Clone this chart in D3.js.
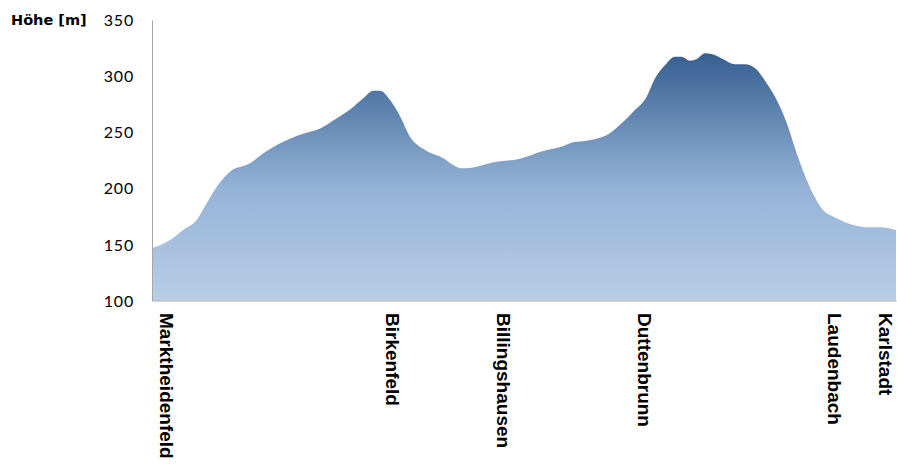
<!DOCTYPE html>
<html>
<head>
<meta charset="utf-8">
<script src="https://cdn.jsdelivr.net/npm/d3@7"></script>
<style>
  body { margin: 0; background: #fff; }
  .tick text { font-family: Lato, "Open Sans", sans-serif; font-size: 16px; letter-spacing: 0.8px; fill: #000; }
  .axis path { stroke: #a6a6a6; }
</style>
</head>
<body>
<div class="chart-container"></div>
<script>
// Data ------------------------------------------------------------------------------------------------------
// distance along the route [km] and elevation [m]
const distance = [0, 0.75, 1.30, 1.86, 2.28, 2.70, 3.25, 4.08, 4.64, 5.47, 6.58, 6.86, 7.70, 8.32, 8.80,
  9.22, 9.50, 9.92, 10.33, 10.75, 11.38, 12.14, 12.55, 12.90, 13.53, 14.15, 15.33, 16.30, 17.14, 17.55,
  18.11, 19.01, 19.57, 20.05, 20.61, 20.96, 21.38, 21.79, 22.07, 22.42, 22.70, 23.04, 23.32, 23.80,
  24.29, 24.71, 25.13, 25.61, 26.03, 26.45, 26.86, 27.28, 27.90, 28.53, 29.22, 29.92, 30.33, 31.0];
const elevation = [146.5, 153.9, 162.8, 171.7, 186.6, 201.4, 214.8, 222.3, 231.2, 241.5, 250.4, 252.0,
  262.4, 271.3, 280.2, 287.0, 287.0, 278.7, 264.4, 246.0, 234.1, 226.7, 220.8, 217.8, 219.3, 222.8,
  226.4, 233.2, 237.7, 241.0, 242.4, 248.1, 257.9, 268.3, 281.6, 298.0, 309.9, 317.3, 317.3, 313.7,
  315.2, 320.3, 319.7, 315.0, 310.5, 310.5, 307.0, 293.6, 278.7, 257.9, 231.2, 207.4, 182.2, 173.3,
  167.3, 165.2, 165.2, 162.8];

// places along the route
const places = ["Marktheidenfeld", "Birkenfeld", "Billingshausen", "Duttenbrunn", "Laudenbach", "Karlstadt"];
const placeKm = [0.61, 10.04, 14.66, 20.51, 28.46, 30.56];

const yTicks = [100, 150, 200, 250, 300, 350];

const profile = distance.map((d, i) => ({km: d, m: elevation[i]}));

// Dimensions ------------------------------------------------------------------------------------------------
const width = 897,
      height = 465;

const svg = d3.select(".chart-container").append("svg")
.attr("width", width)
.attr("height", height);

// Scales ----------------------------------------------------------------------------------------------------
const x = d3.scaleLinear()
.domain([0, 31])
.range([152, 896]);

const y = d3.scaleLinear()
.domain([100, 350])
.range([300.5, 20]);

// Gradient --------------------------------------------------------------------------------------------------
const grad = svg.append("defs").append("linearGradient")
.attr("id", "fillGrad")
.attr("x1", 0).attr("y1", 0)
.attr("x2", 0).attr("y2", 1);

grad.append("stop").attr("offset", "0%").attr("stop-color", "#365f91");
grad.append("stop").attr("offset", "55%").attr("stop-color", "#95b3d7");
grad.append("stop").attr("offset", "100%").attr("stop-color", "#b9cde5");

// Area ------------------------------------------------------------------------------------------------------
const area = d3.area()
.curve(d3.curveMonotoneX)
.x(d => x(d.km))
.y0(y(100))
.y1(d => y(d.m));

svg.append("path")
.datum(profile)
.attr("d", area)
.attr("fill", "url(#fillGrad)");

// Axes ------------------------------------------------------------------------------------------------------
svg.append("g")
.attr("class", "axis")
.attr("transform", `translate(${x(0)},0)`)
.call(d3.axisLeft(y).tickValues(yTicks).tickSize(0).tickPadding(18).tickFormat(d3.format("d")))
.call(g => g.selectAll(".tick text").attr("dy", "0.35em"));

svg.append("g")
.attr("class", "axis")
.attr("transform", `translate(0,${y(100)})`)
.call(d3.axisBottom(x).tickValues([]).tickSizeOuter(0));

// Axis title
svg.append("text")
.attr("x", 11)
.attr("y", 25)
.style("font-family", "'DejaVu Sans', sans-serif")
.style("font-weight", "bold")
.style("font-size", "14.5px")
.text("Höhe [m]");

// Place labels ----------------------------------------------------------------------------------------------
svg.selectAll(".place")
.data(places)
.enter()
.append("text")
.attr("class", "place")
.attr("transform", (d, i) => `translate(${x(placeKm[i])},313) rotate(90)`)
.attr("dy", "0.35em")
.style("font-family", "'Liberation Sans', Arial, sans-serif")
.style("font-weight", "bold")
.style("font-size", "19px")
.text(d => d);
</script>
</body>
</html>
